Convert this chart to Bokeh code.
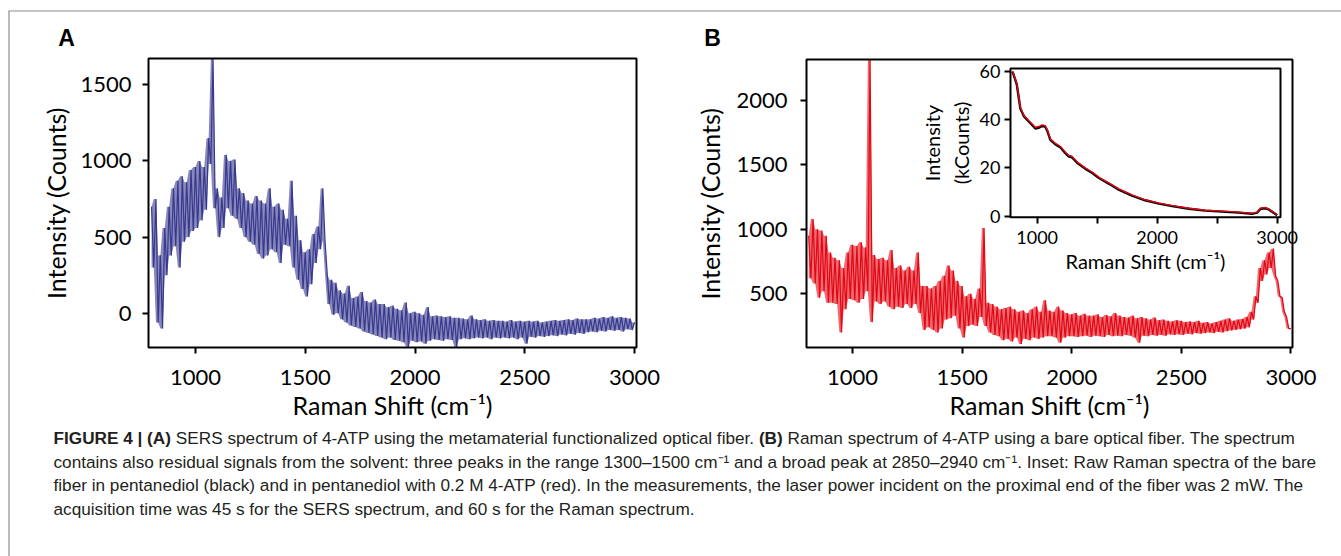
from bokeh.plotting import figure
from bokeh.models import Range1d, FixedTicker, LinearAxis
from bokeh.core.properties import value
from bokeh.embed import file_html
from bokeh.resources import INLINE

# ---------------- data ----------------
# Raman shift sampling of the noisy spectra (cm^-1), 10 cm^-1 steps
shift = list(range(800, 3001, 10))

# Panel A: SERS spectrum (counts); values alternate upper / lower noise extremes
sers_counts = [
    700, 300, 750, -60, 380, -100, 560, 250, 700, 380,
    820, 440, 870, 300, 900, 470, 860, 500, 940, 540,
    960, 560, 1000, 610, 960, 680, 1150, 980, 1670, 690,
    820, 500, 760, 560, 1040, 690, 1000, 640, 1010, 620,
    820, 560, 790, 500, 740, 470, 720, 450, 770, 390,
    740, 360, 720, 380, 820, 420, 700, 400, 720, 330,
    680, 450, 620, 440, 870, 300, 640, 220, 480, 160,
    400, 110, 420, 190, 520, 330, 570, 420, 820, 480,
    260, 60, 220, -10, 200, 0, 150, -40, 130, -60,
    180, -80, 100, -90, 110, -100, 140, -120, 80, -130,
    70, -140, 90, -150, 60, -160, 60, -170, 40, -160,
    50, -175, 30, -180, 20, -190, 70, -222, 0, -180,
    10, -190, 0, -185, -10, -200, 40, -180, -20, -170,
    -15, -175, -20, -180, -25, -170, -20, -175, -30, -222,
    -30, -170, -35, -165, -40, -170, -15, -165, -40, -160,
    -45, -165, -40, -160, -50, -170, -45, -160, -50, -165,
    -50, -160, -55, -165, -45, -160, -55, -170, -50, -160,
    -55, -200, -50, -155, -55, -160, -50, -150, -60, -155,
    -55, -150, -50, -145, -45, -150, -50, -140, -45, -145,
    -40, -135, -45, -140, -35, -130, -40, -135, -40, -125,
    -40, -120, -30, -125, -35, -115, -25, -120, -30, -110,
    -20, -115, -30, -110, -25, -120, -30, -105, -35, -110,
    -60,
]

# Panel B: Raman spectrum with a bare fiber (counts)
raman_counts = [
    950, 620, 1080, 580, 1000, 470, 990, 520, 950, 430,
    820, 430, 780, 420, 760, 200, 700, 380, 820, 460,
    880, 450, 870, 430, 900, 460, 860, 520, 2315, 280,
    800, 440, 770, 420, 780, 440, 760, 400, 840, 380,
    700, 400, 720, 390, 680, 420, 710, 390, 680, 420,
    820, 350, 560, 220, 560, 240, 540, 220, 560, 200,
    600, 230, 640, 300, 720, 310, 680, 330, 600, 230,
    560, 160, 480, 250, 500, 260, 460, 250, 540, 320,
    1010, 250, 430, 200, 420, 180, 400, 170, 380, 140,
    390, 150, 400, 130, 380, 160, 360, 110, 370, 150,
    350, 140, 380, 160, 400, 150, 360, 160, 450, 170,
    370, 170, 360, 160, 400, 120, 370, 160, 350, 170,
    340, 170, 350, 165, 330, 170, 345, 175, 330, 165,
    330, 175, 340, 170, 320, 165, 335, 180, 325, 170,
    350, 175, 330, 170, 320, 180, 315, 175, 330, 160,
    310, 120, 320, 175, 310, 170, 300, 180, 315, 175,
    295, 180, 300, 175, 290, 185, 285, 180, 295, 185,
    290, 180, 280, 190, 285, 185, 280, 195, 290, 190,
    275, 195, 280, 200, 270, 195, 280, 205, 290, 200,
    300, 210, 310, 215, 290, 220, 300, 225, 305, 230,
    320, 240, 360, 300, 480, 430, 700, 600, 760, 650,
    820, 700, 850, 640, 600, 480, 470, 360, 320, 230,
    230,
]

# Inset: raw Raman spectra (kCounts)
inset_shift = [795, 830, 860, 890, 930, 985, 1015, 1040, 1065, 1085, 1110, 1150,
               1195, 1235, 1265, 1290, 1335, 1400, 1460, 1515, 1600, 1680, 1790,
               1900, 2015, 2125, 2265, 2400, 2540, 2680, 2790, 2835, 2860, 2900,
               2930, 3000]
inset_red_k = [60.0, 55.0, 45.0, 41.7, 39.6, 36.8, 37.1, 37.8, 37.5, 35.7, 32.0, 30.2,
               28.8, 26.5, 25.1, 24.8, 22.4, 20.0, 18.2, 16.1, 13.7, 11.3, 8.8,
               6.8, 5.4, 4.4, 3.3, 2.5, 2.1, 1.7, 1.2, 1.7, 3.3, 3.6,
               3.0, 0.6]
inset_black_k = [59.8, 54.6, 44.6, 41.3, 39.2, 36.3, 36.6, 37.3, 37.2, 35.3, 31.6, 29.8,
                 28.4, 26.1, 24.7, 24.4, 22.0, 19.7, 17.9, 15.8, 13.4, 11.0, 8.5,
                 6.6, 5.2, 4.2, 3.1, 2.3, 1.9, 1.5, 1.0, 1.5, 3.0, 3.3,
                 2.8, 0.4]

main_x_ticks = [1000, 1500, 2000, 2500, 3000]
sers_y_ticks = [0, 500, 1000, 1500]
raman_y_ticks = [500, 1000, 1500, 2000]
inset_x_ticks = [1000, 2000, 3000]
inset_x_minor = [1500, 2500]
inset_y_ticks = [0, 20, 40, 60]

x_label = "Raman Shift (cm\u207b\u00b9)"
y_label = "Intensity (Counts)"
inset_y_label = "Intensity\n(kCounts)"

caption_line1 = [
    ("FIGURE 4 | (A)", "bold"),
    ("SERS spectrum of 4-ATP using the metamaterial functionalized optical fiber.", "normal"),
    ("(B)", "bold"),
    ("Raman spectrum of 4-ATP using a bare optical fiber. The spectrum", "normal"),
]
caption_rest = [
    "contains also residual signals from the solvent: three peaks in the range 1300\u20131500 cm\u207b\u00b9 and a broad peak at 2850\u20132940 cm\u207b\u00b9. Inset: Raw Raman spectra of the bare",
    "fiber in pentanediol (black) and in pentanediol with 0.2 M 4-ATP (red). In the measurements, the laser power incident on the proximal end of the fiber was 2 mW. The",
    "acquisition time was 45 s for the SERS spectrum, and 60 s for the Raman spectrum.",
]

# ---------------- layout / styles ----------------
W, H = 1341, 556
BLUE = "#38398e"
RED = "#e30613"
FONT = "Lato"
CAP_FONT = "Liberation Sans"
CAP_SIZE = 17.2

# panel boxes in page pixels (left, right, top, bottom) and data extents
BOX_A, XR_A, YR_A = (148, 636, 58, 347), (786, 3009), (-225, 1673)
BOX_B, XR_B, YR_B = (806, 1292, 59, 347), (790, 3007), (83, 2318)
BOX_I, XR_I, YR_I = (1010, 1280, 68, 216.7), (778, 3028), (-0.4, 61.1)

REG = {' ': 278, '(': 333, ')': 333, '-': 333, '.': 278, ',': 278, ':': 278, '|': 260,
       'A': 667, 'B': 667, 'C': 722, 'D': 722, 'E': 667, 'F': 611, 'G': 778, 'H': 722,
       'I': 278, 'J': 500, 'K': 667, 'L': 556, 'M': 833, 'N': 722, 'O': 778, 'P': 667,
       'Q': 778, 'R': 722, 'S': 667, 'T': 611, 'U': 722, 'V': 667, 'W': 944, 'X': 667,
       'Y': 667, 'Z': 611, 'a': 556, 'b': 556, 'c': 500, 'd': 556, 'e': 556, 'f': 278,
       'g': 556, 'h': 556, 'i': 222, 'j': 222, 'k': 500, 'l': 222, 'm': 833, 'n': 556,
       'o': 556, 'p': 556, 'q': 556, 'r': 333, 's': 500, 't': 278, 'u': 556, 'v': 500,
       'w': 722, 'x': 500, 'y': 500, 'z': 500}
BOLD = {' ': 278, '(': 333, ')': 333, '|': 280, '4': 556, 'A': 722, 'B': 722, 'E': 667,
        'F': 611, 'G': 778, 'I': 278, 'R': 722, 'U': 722}
KERN = {"normal": 0.995, "bold": 1.0}


def text_width(s, style):
    table = BOLD if style == "bold" else REG
    return sum(table.get(ch, 556) for ch in s) * CAP_SIZE / 1000.0 * KERN[style]


p = figure(width=W, height=H, x_range=Range1d(0, W), y_range=Range1d(H, 0),
           output_backend="svg", toolbar_location=None, tools="", title=None,
           x_axis_type=None, y_axis_type=None, min_border=0)
p.outline_line_color = None
p.background_fill_color = "white"
p.border_fill_color = "white"


def panel_ranges(box, xr, yr):
    L, R, T, B = box
    kx = (R - L) / (xr[1] - xr[0])
    ky = (B - T) / (yr[1] - yr[0])
    return (Range1d(xr[0] - L / kx, xr[1] + (W - R) / kx),
            Range1d(yr[0] - (H - B) / ky, yr[1] + T / ky))


rA = panel_ranges(BOX_A, XR_A, YR_A)
rB = panel_ranges(BOX_B, XR_B, YR_B)
rI = panel_ranges(BOX_I, XR_I, YR_I)
p.extra_x_ranges = {"A": rA[0], "B": rB[0], "I": rI[0]}
p.extra_y_ranges = {"A": rA[1], "B": rB[1], "I": rI[1]}


def style_axis(ax, tick_size, label_size, label_standoff, axis_label_standoff):
    ax.axis_line_color = None
    ax.major_tick_line_width = 2
    ax.major_tick_line_color = "black"
    ax.major_tick_in = 0
    ax.major_tick_out = 6
    ax.minor_tick_in = 0
    ax.minor_tick_out = 0
    ax.major_label_text_font = FONT
    ax.major_label_text_font_size = tick_size
    ax.major_label_text_color = "black"
    ax.major_label_standoff = label_standoff
    ax.axis_label_text_font = FONT
    ax.axis_label_text_font_size = label_size
    ax.axis_label_text_font_style = "normal"
    ax.axis_label_text_color = "black"
    ax.axis_label_standoff = axis_label_standoff


def add_axes(name, box, xr, yr, xticks, yticks, ylab, sizes, minor=None):
    L, R, T, B = box
    tick_size, label_size, xs_off, ys_off, xl_off, yl_off = sizes
    xticker = FixedTicker(ticks=xticks, minor_ticks=minor or [])
    xa = LinearAxis(x_range_name=name, fixed_location=B, bounds=xr, ticker=xticker,
                    axis_label=x_label)
    ya = LinearAxis(y_range_name=name, fixed_location=L, bounds=yr,
                    ticker=FixedTicker(ticks=yticks), axis_label=ylab)
    style_axis(xa, tick_size, label_size, xs_off, xl_off)
    style_axis(ya, tick_size, label_size, ys_off, yl_off)
    if minor:
        xa.minor_tick_out = 6
        xa.minor_tick_line_width = 2
        xa.minor_tick_line_color = "black"
    p.add_layout(xa, "below")
    p.add_layout(ya, "left")
    # panel frame
    p.quad(left=[xr[0]], right=[xr[1]], bottom=[yr[0]], top=[yr[1]],
           x_range_name=name, y_range_name=name, fill_color=None,
           line_color="black", line_width=2)


def noise_band(counts):
    nxt = counts[1:] + counts[-1:]
    return [min(a, b) for a, b in zip(counts, nxt)], [max(a, b) for a, b in zip(counts, nxt)]


# ---------------- panel A ----------------
lo_A, hi_A = noise_band(sers_counts)
p.varea(x=shift, y1=lo_A, y2=hi_A, fill_color=BLUE, fill_alpha=0.6,
        x_range_name="A", y_range_name="A")
p.line(shift, sers_counts, line_color=BLUE, line_width=1.2,
       x_range_name="A", y_range_name="A")
add_axes("A", BOX_A, XR_A, YR_A, main_x_ticks, sers_y_ticks, y_label,
         ("22px", "25px", 16, 11, 2, 6))

# ---------------- panel B ----------------
lo_B, hi_B = noise_band(raman_counts)
p.varea(x=shift, y1=lo_B, y2=hi_B, fill_color=RED, fill_alpha=0.6,
        x_range_name="B", y_range_name="B")
p.line(shift, raman_counts, line_color=RED, line_width=1.2,
       x_range_name="B", y_range_name="B")
add_axes("B", BOX_B, XR_B, YR_B, main_x_ticks, raman_y_ticks, y_label,
         ("22px", "25px", 16, 13, 2, 8))

# ---------------- inset ----------------
p.line(inset_shift, inset_black_k, line_color="black", line_width=2.4,
       x_range_name="I", y_range_name="I")
p.line(inset_shift, inset_red_k, line_color=RED, line_width=1.4,
       x_range_name="I", y_range_name="I")
add_axes("I", BOX_I, XR_I, YR_I, inset_x_ticks, inset_y_ticks, inset_y_label,
         ("18px", "20px", 8, 4, 1, 4), minor=inset_x_minor)

# ---------------- figure frame lines, panel letters, caption ----------------
p.segment(x0=[8, 8.5], y0=[10.5, 10.5], x1=[W, 8.5], y1=[10.5, H],
          line_color="#8c8c8c", line_width=1.2)
p.text(x=[66, 712], y=[37, 37], text=["A", "B"], text_font=value(CAP_FONT),
       text_font_size=value("23px"), text_font_style="bold", text_align="center",
       text_baseline="middle", text_color="black")

cap_x0 = 53
cap_y = [437, 461, 484, 508]
xs, ys, txt, styles = [], [], [], []
cx = cap_x0
for s, st in caption_line1:
    xs.append(cx)
    ys.append(cap_y[0])
    txt.append(s)
    styles.append(st)
    cx += text_width(s, st) + text_width(" ", "normal")
for i, s in enumerate(caption_rest):
    xs.append(cap_x0)
    ys.append(cap_y[i + 1])
    txt.append(s)
    styles.append("normal")
for st in ("bold", "normal"):
    idx = [i for i in range(len(txt)) if styles[i] == st]
    p.text(x=[xs[i] for i in idx], y=[ys[i] for i in idx], text=[txt[i] for i in idx],
           text_font=value(CAP_FONT), text_font_size=value("%.1fpx" % CAP_SIZE),
           text_font_style=st, text_align="left", text_baseline="middle",
           text_color="#231f20")

open("out.html", "w").write(file_html(p, INLINE))
